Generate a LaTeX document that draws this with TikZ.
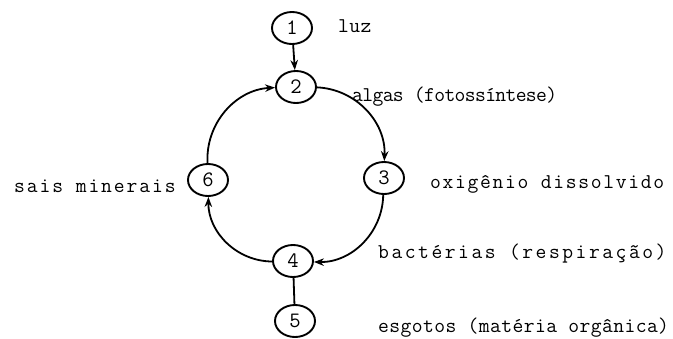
\documentclass[tikz,border=0pt]{standalone}
\usepackage{fontspec}
\setmonofont{Latin Modern Mono}
\usetikzlibrary{arrows.meta, positioning, shapes.geometric}
\newcommand{\tw}{\ttfamily\fontsize{21}{25}\selectfont}

\begin{document}
\begin{tikzpicture}[
  x=1pt, y=1pt,
  num/.style={draw, ellipse, line width=1.9pt, minimum width=40pt, minimum height=32pt, inner sep=0pt, font=\ttfamily\fontsize{22}{26}\selectfont},
  lbl/.style={anchor=base west, inner sep=0pt, font=\tw\addfontfeature{LetterSpace=#1}},
  lbl/.default=0,
  arr/.style={-{Stealth[length=10pt, width=7.5pt]}, line width=1.8pt},
  lin/.style={line width=1.8pt}
]
\useasboundingbox (0,0) rectangle (673,-338);

% ring of numbered stations
\node[num] (luz) at (292,-28) {1};
\node[num] (algas) at (296,-87) {2};
\node[num] (oxig) at (384,-178) {3};
\node[num] (bact) at (293,-261) {4};
\node[num] (esg) at (295,-321) {5};
\node[num] (sais) at (208,-180) {6};

\node[lbl=2] (tluz) at (338,-32) {luz};
\node[lbl=-3] (talgas) at (352,-101) {algas (fotossíntese)};
\node[lbl=8] (toxig) at (430,-188) {oxigênio dissolvido};
\node[lbl=9] (tsais) at (14,-192) {sais minerais};
\node[lbl=12] (tbact) at (378,-258) {bactérias (respiração)};
\node[lbl=2] (tesg) at (378,-332) {esgotos (matéria orgânica)};

\draw[arr] (luz) -- (algas);
\draw[arr] (algas) to[bend left=45] (oxig);
\draw[arr] (oxig) to[bend left=45] (bact);
\draw[arr] (bact) to[bend left=45] (sais);
\draw[arr] (sais) to[bend left=45] (algas);
\draw[lin] (bact) -- (esg);
\end{tikzpicture}
\end{document}
